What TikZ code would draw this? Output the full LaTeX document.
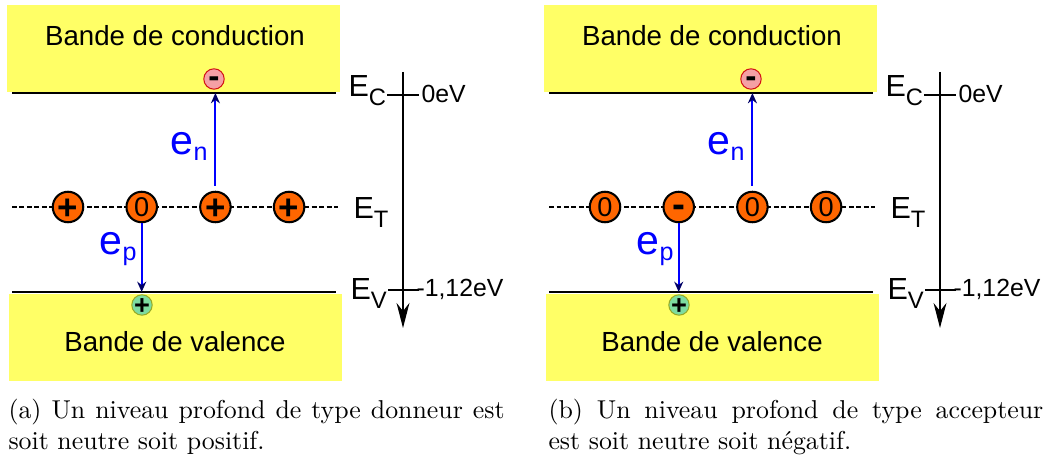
\documentclass[tikz,border=0pt]{standalone}
\usepackage{fontspec}
\newfontfamily\arial{Liberation Sans}
\usetikzlibrary{arrows.meta}

\definecolor{bandyellow}{RGB}{255,255,102}
\definecolor{traporange}{RGB}{255,102,0}
\definecolor{elecpink}{RGB}{245,160,165}
\definecolor{elecred}{RGB}{210,20,20}
\definecolor{holegreen}{RGB}{125,220,160}
\definecolor{holeolive}{RGB}{150,170,40}

% charge signs, centred on the node centre
\newcommand{\charge}[3]{\raisebox{-#2}[0pt][0pt]{\fontsize{#1}{#1}\selectfont #3}}
\newcommand{\chpos}{\charge{13.5}{4.7pt}{\bfseries +}}
\newcommand{\chneg}{\charge{15}{4pt}{\bfseries -}}
\newcommand{\chzero}{\charge{10.5}{3.7pt}{0}}
\newcommand{\lvl}[1]{E\raisebox{-3.1pt}{\fontsize{9.2}{10}\selectfont #1}}
\newcommand{\rate}[1]{e\raisebox{-2pt}{\fontsize{9.7}{10}\selectfont #1}}

\begin{document}
\begin{tikzpicture}[x=0.387pt, y=-0.387pt,
	band/.style={fill=bandyellow},
	level/.style={line width=0.45pt},
	trap/.style={circle, draw, fill=traporange, line width=0.8pt, minimum size=11.8pt, inner sep=0pt, font=\arial},
	electron/.style={circle, draw=elecred, fill=elecpink, line width=0.4pt, minimum size=7.9pt, inner sep=0pt, font=\arial},
	hole/.style={circle, draw=holeolive, fill=holegreen, line width=0.4pt, minimum size=7.9pt, inner sep=0pt, font=\arial},
	emit/.style={blue, line width=0.8pt, -{Stealth[length=4pt, width=3.5pt, black!60!blue]}},
	ratelabel/.style={blue, inner sep=0pt, font=\arial\fontsize{15.9}{18}\selectfont},
	lvllabel/.style={inner sep=0pt, font=\arial\fontsize{11.8}{14}\selectfont},
	evlabel/.style={inner sep=0pt, font=\arial\fontsize{9.6}{11}\selectfont},
	bandtext/.style={inner sep=0pt, font=\arial\fontsize{10.7}{13}\selectfont}]
	
	\useasboundingbox (0,0) rectangle (1051,460);
	
	% Constants
	\def\yc{93}    % E_C
	\def\yt{207}   % E_T
	\def\yv{292}   % E_V
	\def\xaxis{403}
	
	% === PANELS (a) AND (b) ===
	\foreach \p/\sx/\charges in {a/0/{\chpos,\chzero,\chpos,\chpos}, b/537/{\chzero,\chneg,\chzero,\chzero}} {
		\begin{scope}[xshift=\sx*0.387pt]
			% bands
			\fill[band] (7,5) rectangle (340,92);
			\fill[band] (9,294) rectangle (342,381);
			\node[bandtext, anchor=base] (\p-cb) at (175,46) {Bande de conduction};
			\node[bandtext, anchor=base] (\p-vb) at (175,352) {Bande de valence};
			
			% levels
			\coordinate (\p-ecl) at (12,\yc);
			\coordinate (\p-ecr) at (336,\yc);
			\coordinate (\p-evl) at (12,\yv);
			\coordinate (\p-evr) at (336,\yv);
			\coordinate (\p-etl) at (12,\yt);
			\coordinate (\p-etr) at (338,\yt);
			\draw[level] (\p-ecl) -- (\p-ecr);
			\draw[level] (\p-evl) -- (\p-evr);
			\draw[line width=0.4pt, dash pattern=on 1.9pt off 1pt] (\p-etl) -- (\p-etr);
			
			% deep level traps
			\foreach \c [count=\i] in \charges {
				\node[trap] (\p-t\i) at ({68+73.7*(\i-1)},\yt) {\c};
			}
			
			% free carriers
			\node[electron] (\p-el) at (214,79) {\charge{13}{3.4pt}{\bfseries -}};
			\node[hole] (\p-ho) at (142,305) {\charge{10.5}{3.6pt}{\bfseries +}};
			
			% emissions
			\draw[emit, shorten <=2pt] (\p-t3.north) -- (\p-t3 |- \p-ecl);
			\draw[emit] (\p-t2.south) -- (\p-t2 |- \p-evl);
			\node[ratelabel, anchor=base east] (\p-en) at (208,155) {\rate{n}};
			\node[ratelabel, anchor=base east] (\p-ep) at (137,255) {\rate{p}};
			
			% energy axis
			\draw[line width=0.5pt, -{Stealth[length=9.7pt, width=5pt]}] (\xaxis,72) -- (\xaxis,328);
			\draw[line width=0.5pt] (387,95) -- (419,95);
			\draw[line width=0.5pt] (388,290) -- (419,290);
			\node[lvllabel, anchor=base west] (\p-ec) at (348,97) {\lvl{C}};
			\node[lvllabel, anchor=base west] (\p-et) at (353,219) {\lvl{T}};
			\node[lvllabel, anchor=base west] (\p-ev) at (350,300) {\lvl{V}};
			\node[evlabel, anchor=base west] (\p-0ev) at (421,103) {0eV};
			\node[evlabel, anchor=base west] (\p-112ev) at (416,297) {-1,12eV};
		\end{scope}
	}
	
	% === CAPTIONS ===
	\node[anchor=base west, inner sep=0pt] (cap-a) at (8,418)
	{\parbox[t]{192pt}{(a) Un niveau profond de type donneur est\linebreak soit neutre soit positif.}};
	\node[anchor=base west, inner sep=0pt] (cap-b) at (548,418)
	{\parbox[t]{191.5pt}{(b) Un niveau profond de type accepteur\linebreak est soit neutre soit négatif.}};
	
\end{tikzpicture}
\end{document}
